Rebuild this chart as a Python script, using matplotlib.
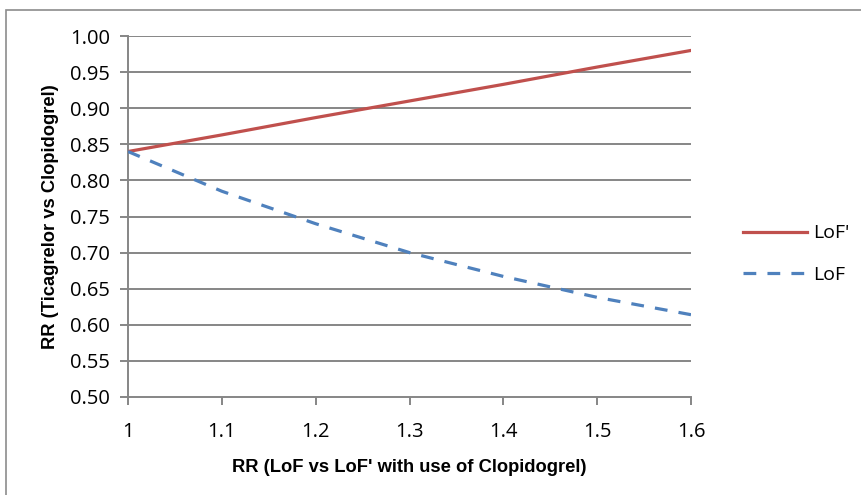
import matplotlib
matplotlib.use("Agg")
import matplotlib.pyplot as plt
from matplotlib.patches import Rectangle

x_vals = [1.0, 1.1, 1.2, 1.3, 1.4, 1.5, 1.6]
lof_prime = [0.840, 0.863, 0.887, 0.910, 0.933, 0.957, 0.980]
lof = [0.840, 0.785, 0.740, 0.700, 0.667, 0.638, 0.614]
y_ticks = [0.50, 0.55, 0.60, 0.65, 0.70, 0.75, 0.80, 0.85, 0.90, 0.95, 1.00]
x_ticks = [1.0, 1.1, 1.2, 1.3, 1.4, 1.5, 1.6]
x_tick_labels = ["1", "1.1", "1.2", "1.3", "1.4", "1.5", "1.6"]

W, H = 861, 495
fig = plt.figure(figsize=(W / 100, H / 100), dpi=100)
fig.patch.set_facecolor("white")

# outer chart frame
fig.patches.append(Rectangle((6 / W, -0.1), 1.2, 1.1 - 10 / H,
                             transform=fig.transFigure, fill=False,
                             edgecolor="#8c8c8c", linewidth=1.2))

ax = fig.add_axes([128 / W, 1 - 397 / H, (691 - 128) / W, (397 - 36) / H])
grid_c = "#868686"
for yv in y_ticks[1:]:
    ax.axhline(yv, color=grid_c, linewidth=1.4, zorder=1)

l1, = ax.plot(x_vals, lof_prime, color="#C0504D", linewidth=2.3, label="LoF'", zorder=3)
l2, = ax.plot(x_vals, lof, color="#4F81BD", linewidth=2.3, label="LoF", zorder=3)
l2.set_dashes([4, 3.5])

ax.set_xlim(1.0, 1.6)
ax.set_ylim(0.50, 1.00)
ax.set_xticks(x_ticks)
ax.set_xticklabels(x_tick_labels)
ax.set_yticks(y_ticks)
ax.set_yticklabels([f"{v:.2f}" for v in y_ticks])

for s in ["top", "right"]:
    ax.spines[s].set_visible(False)
for s in ["left", "bottom"]:
    ax.spines[s].set_color(grid_c)
    ax.spines[s].set_linewidth(1.4)

ax.tick_params(axis="both", direction="out", length=6, width=1.4, color=grid_c,
               labelsize=14.5)
ax.tick_params(axis="y", pad=7)
ax.tick_params(axis="x", pad=12)
for lab in ax.get_xticklabels() + ax.get_yticklabels():
    lab.set_family("Open Sans")

ax.set_xlabel("RR (LoF vs LoF' with use of Clopidogrel)", fontsize=13.2,
              fontweight="bold", family="Liberation Sans", labelpad=12)
ax.set_ylabel("RR (Ticagrelor vs Clopidogrel)", fontsize=13.2,
              fontweight="bold", family="Liberation Sans", labelpad=8)

leg = fig.legend(handles=[l1, l2], loc="center left",
                 bbox_to_anchor=(743 / W, 1 - 254 / H), frameon=False,
                 prop={"family": "Open Sans", "size": 14}, handlelength=3.3,
                 handletextpad=0.32, labelspacing=1.2, borderpad=0,
                 borderaxespad=0)

fig.savefig("out.png", dpi=100, facecolor="white")
